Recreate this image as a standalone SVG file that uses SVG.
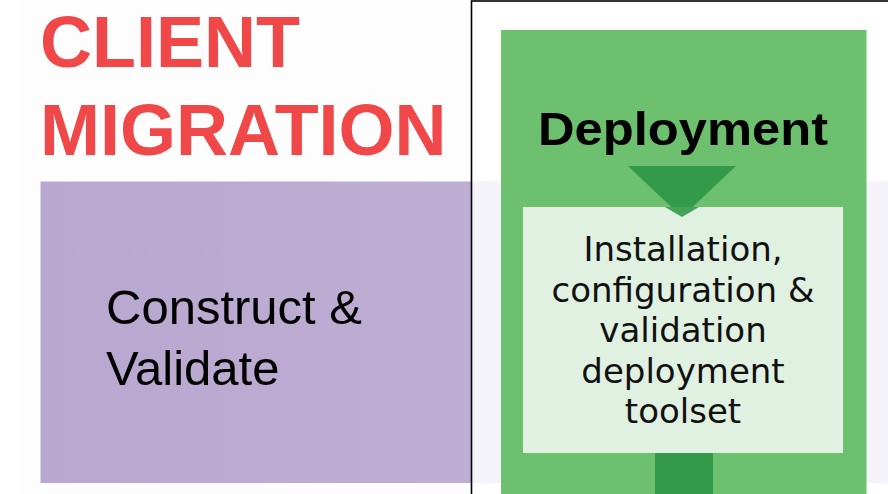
<svg xmlns="http://www.w3.org/2000/svg" width="888" height="494" viewBox="0 0 888 494">
<style>
.title{font-family:"Liberation Sans",Arial,sans-serif;font-weight:bold;font-size:72px;fill:#f04848}
.purple{font-family:"Liberation Sans",Arial,sans-serif;font-size:49px;fill:#000}
.dep{font-family:"Liberation Sans",Arial,sans-serif;font-weight:bold;font-size:46px;fill:#000}
.inner{font-family:"DejaVu Sans",Verdana,sans-serif;font-size:34px;fill:#111;text-anchor:middle}
.dark{fill:#339a4a}
</style>
<defs>
<linearGradient id="pg" x1="0" y1="0" x2="1" y2="0">
<stop offset="0" stop-color="#b8a8cf"/>
<stop offset="1" stop-color="#beaed4"/>
</linearGradient>
</defs>
<rect x="0" y="0" width="888" height="494" fill="#ffffff"/>
<rect x="21" y="0" width="451" height="494" fill="#fdfdfe"/>
<rect x="472" y="181.5" width="416" height="301.5" fill="#f4f3f9"/>
<g id="title">
<text class="title" x="40" y="67">CLIENT</text>
<text class="title" x="40" y="155">MIGRATION</text>
</g>
<g id="construct">
<rect x="40.5" y="181.5" width="431" height="301.5" fill="url(#pg)"/>
<text class="purple"><tspan x="106" y="324">Construct &amp;</tspan><tspan x="106" y="385">Validate</tspan></text>
</g>
<rect id="frame" x="471.5" y="1" width="430" height="510" fill="none" stroke="#000" stroke-width="1.6"/>
<g id="deployment">
<rect x="501" y="30" width="365.5" height="470" fill="#6cc06e"/>
<text class="dep" x="538" y="145" textLength="290" lengthAdjust="spacingAndGlyphs">Deployment</text>
</g>
<g id="connectors">
<polygon class="dark" points="628,166 736,166 682,217"/>
<rect class="dark" x="655" y="450" width="58" height="44"/>
</g>
<g id="toolset">
<rect x="523" y="207" width="320" height="246" fill="#e0f0e1"/>
<polygon points="665,207 699,207 682,217" fill="#339a4a" opacity="0.9"/>
<text class="inner"><tspan x="683" y="261">Installation,</tspan><tspan x="683" y="301.5">configuration &amp;</tspan><tspan x="683" y="342">validation</tspan><tspan x="683" y="382.5">deployment</tspan><tspan x="683" y="423">toolset</tspan></text>
</g>
</svg>
